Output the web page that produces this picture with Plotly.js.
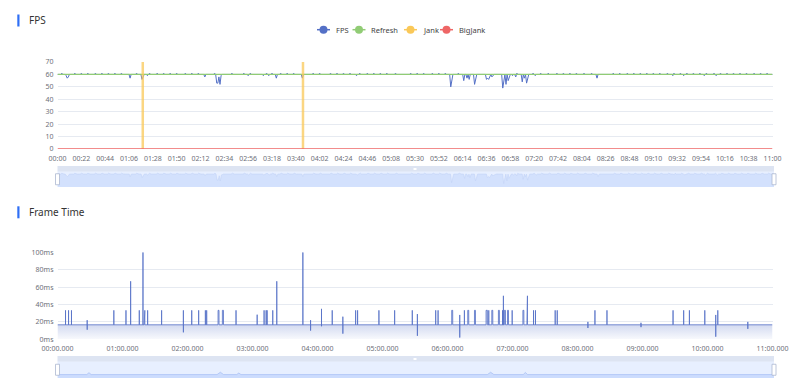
<!DOCTYPE html>
<html><head><meta charset="utf-8">
<script src="https://cdn.plot.ly/plotly-3.0.1.min.js"></script>
<style>html,body{margin:0;padding:0;background:#fff}#chart{width:800px;height:384px}</style>
</head><body><div id="chart"></div>
<script>
// ---------------- data ----------------
const seriesNames  = ['FPS', 'Refresh', 'Jank', 'BigJank'];
const seriesColors = ['#5470c6', '#91cc75', '#fac858', '#ee6666'];
const chartTitles  = ['FPS', 'Frame Time'];

const fpsTickLabels = ['00:00','00:22','00:44','01:06','01:28','01:50','02:12','02:34','02:56','03:18','03:40',
  '04:02','04:24','04:46','05:08','05:30','05:52','06:14','06:36','06:58','07:20','07:42','08:04','08:26',
  '08:48','09:10','09:32','09:54','10:16','10:38','11:00'];
const ftTickLabels = ['00:00.000','01:00.000','02:00.000','03:00.000','04:00.000','05:00.000','06:00.000',
  '07:00.000','08:00.000','09:00.000','10:00.000','11:00.000'];
const fpsYTicks = [0,10,20,30,40,50,60,70];
const ftYTicks  = [0,20,40,60,80,100];

const durationSec = 660;
const fpsBaseline = 60;           // normal FPS sample value (one sample per second)
// samples that differ from 60 (dips)
const fpsDipTimes  = [8,9,10,67,78,79,83,136,147,148,149,150,151,176,190,195,202,226,276,363,364,375,378,380,385,386,
  396,397,398,399,401,402,411,412,414,416,417,420,423,429,431,433,434,441,498,568,578,597,608];
const fpsDipValues = [59,57,58,57,56,58,59,58,53,53,58,52,59,59,59,59,57,57,59,50,57,55,57,56,52,58,
  56,57,56,58,58,59,49,55,52,55,58,59,58,54,57,53,58,59,57,59,59,59,59];
// samples that read 61
const fpsHighTimes = [4,16,22,28,35,41,47,53,59,73,85,92,98,104,110,118,124,130,145,161,172,178,193,198,206,212,218,
  236,242,252,258,264,270,279,286,292,298,304,312,326,332,338,346,352,358,370,424,439,446,453,461,467,473,479,486,
  493,513,519,526,532,538,544,550,556,563,569,575,581,587,593,599,606,612,618,624,630,636,643,649,655];
const fpsHighValue = 61;

const refreshTimes  = [0, 660];
const refreshValues = [60, 60];
const jankTimes  = [78.7, 226.6];
const jankValues = [70, 70];
const bigJankTimes  = [0, 660];
const bigJankValues = [0, 0];

const ftBaseline = 16.67;         // ms per frame at 60 Hz
const ftSpikeStart = [7.4,10.2,12.9,27.4,52.0,63.2,67.5,75.5,78.9,80.0,83.2,96.1,116.2,123.9,130.3,136.5,137.7,148.2,152.2,
  164.8,184.3,190.7,192.6,193.5,198.7,202.4,226.5,233.6,243.7,253.6,263.4,275.2,277.0,296.7,311.2,327.5,332.2,349.1,351.3,
  363.9,371.3,375.6,378.7,384.9,395.6,398.1,400.9,407.0,410.8,411.6,412.5,415.4,419.7,429.6,433.3,433.8,439.4,441.2,459.4,
  461.3,489.6,496.1,507.2,538.6,568.2,578.0,583.3,597.5,607.6,609.5,637.2];
const ftSpikeEnd = [7.4,10.2,12.9,27.4,52.0,63.2,67.5,75.5,78.9,80.6,83.2,96.1,116.2,123.9,130.3,136.5,137.7,149.1,153.2,
  164.8,184.3,190.7,192.6,193.5,198.7,202.4,226.5,233.6,243.7,253.6,263.4,275.2,277.0,296.7,311.2,327.5,332.2,349.1,351.3,
  364.8,371.3,375.6,379.6,385.8,396.8,398.1,401.8,407.9,410.8,411.6,413.5,416.3,419.7,430.5,433.3,433.8,439.4,441.2,459.4,
  461.3,489.6,496.1,507.2,538.6,568.2,578.0,583.3,597.5,607.6,609.5,637.2];
const ftSpikeValue = [33.3,33.3,33.3,22,33.3,33.3,66.7,33.3,100,33.3,33.3,33.3,33.3,33.3,33.3,33.3,33.3,33.3,33.3,
  33.3,28.3,33.3,33.3,33.3,33.3,66.7,100,22,35,33.3,26,33.3,33.3,33.3,33.3,33.3,29,33.3,33.3,
  33.3,28,33.3,33.3,33.3,33.3,33.3,33.3,33.3,33.3,50,33.3,33.3,33.3,33.3,33.3,50,33.3,33.3,33.3,
  33.3,20,33.3,33.3,19,33.3,33.3,33.3,33.3,28,33.3,20];
const ftSpikeAfter = [16.67,16.67,16.67,11,16.67,16.67,16.67,16.67,16.67,16.67,16.67,16.67,8,16.67,16.67,16.67,16.67,16.67,16.67,
  16.67,16.67,16.67,16.67,16.67,16.67,16.67,16.67,10,15,16.67,6.5,16.67,16.67,16.67,16.67,16.67,4,16.67,16.67,
  16.67,2,16.67,16.67,16.67,16.67,16.67,16.67,16.67,16.67,16.67,16.67,16.67,16.67,16.67,16.67,16.67,16.67,16.67,16.67,
  16.67,13,16.67,16.67,14,16.67,16.67,16.67,16.67,3,16.67,12];
// down-sampled frame time used by the zoom slider preview
const ftShadowTimes  = [0,27,29,31,147,150,153,165,167,169,396,399,402,429,431,433,660];
const ftShadowValues = [16.67,16.67,26,16.67,16.67,28,16.67,16.67,24,16.67,16.67,28,16.67,16.67,27,16.67,16.67];

// ---------------- build series ----------------
function parseTime(s){ const p = s.split(':'); return parseInt(p[0],10)*60 + parseFloat(p[1]); }

const fpsX = [], fpsY = [];
const dipMap = {}; fpsDipTimes.forEach((t,i)=>dipMap[t]=fpsDipValues[i]);
const highSet = new Set(fpsHighTimes);
for (let s = 0; s <= durationSec; s++) {
  fpsX.push(s);
  fpsY.push(dipMap[s] !== undefined ? dipMap[s] : (highSet.has(s) ? fpsHighValue : fpsBaseline));
}

const ftX = [0], ftY = [ftBaseline];
const dF = 1/60;
ftSpikeStart.forEach((s,i)=>{
  const e = ftSpikeEnd[i];
  ftX.push(s-dF, s); ftY.push(ftBaseline, ftSpikeValue[i]);
  if (e > s) { ftX.push(e); ftY.push(ftSpikeValue[i]); }
  ftX.push(e+dF, e+2*dF); ftY.push(ftSpikeAfter[i], ftBaseline);
});
ftX.push(durationSec); ftY.push(ftBaseline);

const jankX = [], jankY = [];
jankTimes.forEach((t,i)=>{ jankX.push(t,t,null); jankY.push(0,jankValues[i],null); });

// ---------------- geometry helpers (pixels -> paper) ----------------
const W = 800, H = 384;
const px = v => v / W, py = v => 1 - v / H;
const plotL = 57.5, plotR = 772.5;

const font = 'Noto Sans, Open Sans, sans-serif';
const tickFont = {family: font, size: 7, color: '#6e7079'};
const gridColor = '#e6eaf1';

const traces = [
  {x: fpsX, y: fpsY, xaxis:'x', yaxis:'y', type:'scatter', mode:'lines', name: seriesNames[0],
   line:{color: seriesColors[0], width: 1}, showlegend:false},
  {x: refreshTimes, y: refreshValues, xaxis:'x', yaxis:'y', type:'scatter', mode:'lines', name: seriesNames[1],
   line:{color: seriesColors[1], width: 1.3}, showlegend:false},
  {x: jankX, y: jankY, xaxis:'x', yaxis:'y', type:'scatter', mode:'lines', name: seriesNames[2],
   line:{color: 'rgba(250,200,88,0.75)', width: 2.5}, showlegend:false},
  {x: bigJankTimes, y: bigJankValues, xaxis:'x', yaxis:'y', type:'scatter', mode:'lines', name: seriesNames[3],
   line:{color: seriesColors[3], width: 1.3}, showlegend:false, cliponaxis:false},
  // FPS zoom-slider preview
  {x: fpsX, y: fpsY, xaxis:'x2', yaxis:'y2', type:'scatter', mode:'lines', fill:'tozeroy',
   fillcolor:'rgba(143,176,247,0.22)', line:{color:'#c3d3f6', width: 0.6}, showlegend:false},
  // Frame time
  {x: ftX, y: ftY, xaxis:'x3', yaxis:'y3', type:'scatter', mode:'lines', fill:'tozeroy',
   fillgradient:{type:'vertical', start:0, stop:100,
     colorscale:[[0,'rgba(84,112,198,0.04)'],[0.17,'rgba(84,112,198,0.26)'],[1,'rgba(84,112,198,0.6)']]},
   line:{color: seriesColors[0], width: 0.8}, showlegend:false},
  // Frame time zoom-slider preview
  {x: ftShadowTimes, y: ftShadowValues, xaxis:'x4', yaxis:'y4', type:'scatter', mode:'lines', fill:'tozeroy',
   fillcolor:'rgba(143,176,247,0.3)', line:{color:'#9fb9f2', width: 0.6}, showlegend:false}
];

// ---------------- decorations ----------------
const shapes = [], annotations = [];
[[chartTitles[0], 20.5], [chartTitles[1], 212.3]].forEach(([txt, cy])=>{
  shapes.push({type:'rect', xref:'paper', yref:'paper', x0:px(17.3), x1:px(19.5), y0:py(cy-6), y1:py(cy+6),
    fillcolor:'#2f6ff5', line:{width:0}});
  annotations.push({text: txt, xref:'paper', yref:'paper', x:px(26.5), y:py(cy), xanchor:'left', yanchor:'middle',
    showarrow:false, font:{family: font, size: 10, color:'#333'}});
});
const legendStart = [317, 352.5, 404, 440];
const legendY = 29.7;
seriesNames.forEach((name,i)=>{
  const x0 = legendStart[i];
  shapes.push({type:'line', xref:'paper', yref:'paper', x0:px(x0), x1:px(x0+13), y0:py(legendY), y1:py(legendY),
    line:{color: seriesColors[i], width: 1.5}});
  shapes.push({type:'circle', xref:'paper', yref:'paper', x0:px(x0+2.5), x1:px(x0+10.5), y0:py(legendY-4), y1:py(legendY+4),
    fillcolor: seriesColors[i], line:{width:0}});
  annotations.push({text: name, xref:'paper', yref:'paper', x:px(x0+16.5), y:py(legendY), xanchor:'left', yanchor:'middle',
    showarrow:false, font:{family: font, size: 7.5, color:'#444'}});
});
function slider(top, bodyTop, bottom){
  shapes.push({type:'rect', xref:'paper', yref:'paper', x0:px(plotL), x1:px(plotR+1.5), y0:py(top), y1:py(bodyTop),
    fillcolor:'rgba(210,219,238,0.75)', line:{width:0}, layer:'below'});
  shapes.push({type:'rect', xref:'paper', yref:'paper', x0:px(plotL), x1:px(plotR+1.5), y0:py(bodyTop), y1:py(bottom),
    fillcolor:'rgba(135,175,255,0.2)', line:{width:0}, layer:'below'});
  const cx = (plotL+plotR)/2;
  shapes.push({type:'rect', xref:'paper', yref:'paper', x0:px(cx-1.5), x1:px(cx+1.5), y0:py(top+2), y1:py(top+4),
    fillcolor:'#ffffff', line:{width:0}});
  const mid = (bodyTop+bottom)/2;
  [plotL, plotR+1.5].forEach(hx=>{
    shapes.push({type:'rect', xref:'paper', yref:'paper', x0:px(hx-2), x1:px(hx+2), y0:py(mid-5.5), y1:py(mid+5.5),
      fillcolor:'#ffffff', line:{color:'#acb8d1', width:0.8}});
  });
}
slider(166, 171.5, 187);
slider(356, 361.5, 378);

const layout = {
  width: W, height: H, margin:{l:0,r:0,t:0,b:0}, paper_bgcolor:'#fff', plot_bgcolor:'rgba(0,0,0,0)',
  showlegend:false, hovermode:false, font:{family: font},
  xaxis:{anchor:'y', domain:[px(plotL), px(plotR)], range:[0, durationSec], tickvals: fpsTickLabels.map(parseTime), ticktext: fpsTickLabels,
    showgrid:false, zeroline:false, showline:false, ticks:'outside', ticklen:3, tickcolor:'rgba(0,0,0,0)', tickfont: tickFont, fixedrange:true},
  yaxis:{anchor:'x', domain:[py(149), py(62)], range:[0,70], tickvals: fpsYTicks, gridcolor: gridColor, gridwidth:1,
    zeroline:false, showline:false, tickfont: tickFont, ticklabelstandoff:3, fixedrange:true},
  xaxis2:{anchor:'y2', domain:[px(plotL), px(plotR+1.5)], range:[0, durationSec], visible:false, fixedrange:true},
  yaxis2:{anchor:'x2', domain:[py(187), py(171.5)], range:[45, 63], visible:false, fixedrange:true},
  xaxis3:{anchor:'y3', domain:[px(plotL), px(plotR)], range:[0, durationSec], tickvals: ftTickLabels.map(parseTime), ticktext: ftTickLabels,
    showgrid:false, zeroline:false, showline:false, ticks:'outside', ticklen:2, tickcolor:'rgba(0,0,0,0)', tickfont: tickFont, fixedrange:true},
  yaxis3:{anchor:'x3', domain:[py(339.3), py(252.3)], range:[0,100], tickvals: ftYTicks, ticktext: ftYTicks.map(v=>v+'ms'),
    gridcolor: gridColor, gridwidth:1, zeroline:false, showline:false, tickfont: tickFont, ticklabelstandoff:3, fixedrange:true},
  xaxis4:{anchor:'y4', domain:[px(plotL), px(plotR+1.5)], range:[0, durationSec], visible:false, fixedrange:true},
  yaxis4:{anchor:'x4', domain:[py(378), py(361.5)], range:[0, 80], visible:false, fixedrange:true},
  shapes: shapes, annotations: annotations
};

Plotly.newPlot('chart', traces, layout, {displayModeBar:false, staticPlot:true});
</script>
</body></html>
